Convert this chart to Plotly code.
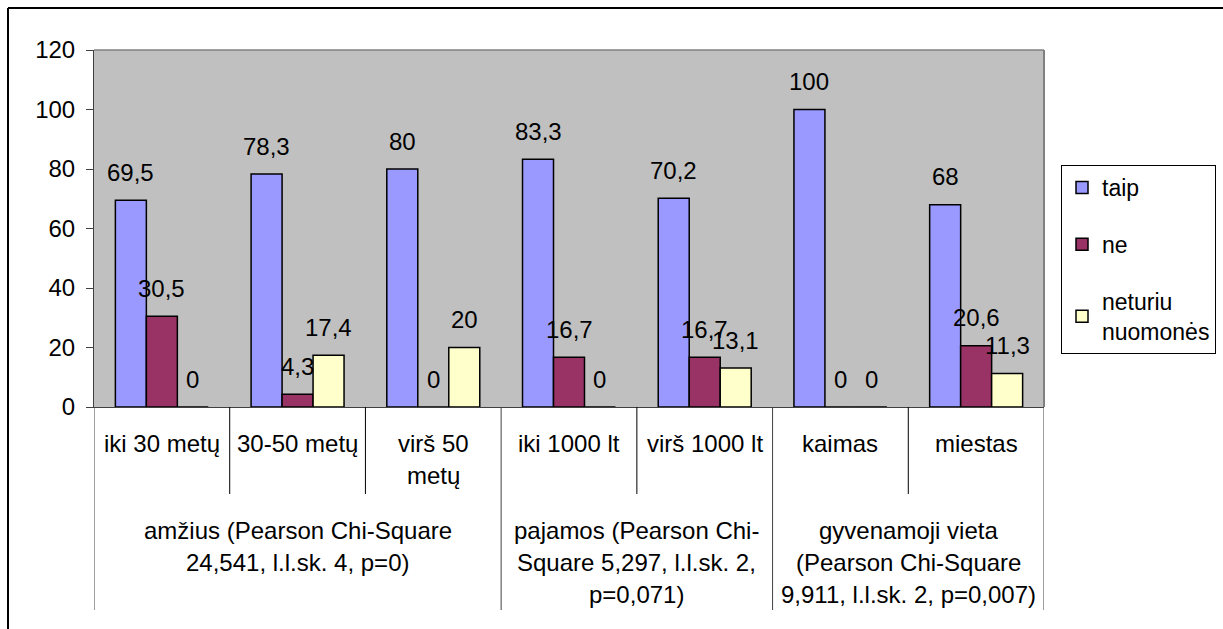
import plotly.graph_objects as go

# Survey answers (%) by respondent group
categories = ["iki 30 metų", "30-50 metų", "virš 50<br>metų", "iki 1000 lt",
              "virš 1000 lt", "kaimas", "miestas"]
taip = [69.5, 78.3, 80, 83.3, 70.2, 100, 68]
ne = [30.5, 4.3, 0, 16.7, 16.7, 0, 20.6]
neturiu = [0, 17.4, 20, 0, 13.1, 0, 11.3]

series_names = ["taip", "ne", "neturiu<br>nuomonės"]
series_colors = ["#9999FF", "#993366", "#FFFFCC"]

# Outer category level: (label lines, first group index, last group index)
group_labels = [
    (["amžius (Pearson Chi-Square", "24,541, l.l.sk. 4, p=0)"], 0, 2),
    (["pajamos (Pearson Chi-", "Square 5,297, l.l.sk. 2,", "p=0,071)"], 3, 4),
    (["gyvenamoji vieta", "(Pearson Chi-Square", "9,911, l.l.sk. 2, p=0,007)"], 5, 6),
]

FONT = "Liberation Sans, Arial, sans-serif"
FS = 24

W, H = 1223, 629
ML, MR, MT, MB = 94, 179, 50, 222
PH = H - MT - MB
PW = W - ML - MR


def py(pix):
    """Pixel row -> paper y."""
    return (H - MB - pix) / PH


def px(pix):
    """Pixel column -> paper x."""
    return (pix - ML) / PW


fig = go.Figure()
xs = list(range(len(categories)))
all_series = [taip, ne, neturiu]
for i, (name, vals, col) in enumerate(zip(series_names, all_series, series_colors)):
    fig.add_trace(go.Bar(
        x=xs, y=vals, name=name, legendgroup=f"g{i}",
        marker=dict(color=col, line=dict(color="black", width=1.5)),
        hoverinfo="y",
    ))

BARGAP = 0.315
bar_w = (1 - BARGAP) / 3
annotations = []

# value labels above each bar
for i, vals in enumerate(all_series):
    off = (i - 1) * bar_w
    for k, v in enumerate(vals):
        annotations.append(dict(
            x=k + off, y=v, xref="x", yref="y",
            text=f"{v:g}".replace(".", ","), showarrow=False,
            yanchor="middle", yshift=28,
            font=dict(family=FONT, size=FS, color="black"),
        ))

# inner category labels
for k, lab in enumerate(categories):
    for j, line in enumerate(lab.split("<br>")):
        annotations.append(dict(
            x=k, y=py(443 + 32 * j), xref="x", yref="paper",
            text=line, showarrow=False, yanchor="middle",
            font=dict(family=FONT, size=FS, color="black"),
        ))

# outer category labels
for lines, a, b in group_labels:
    for j, line in enumerate(lines):
        annotations.append(dict(
            x=(a + b) / 2, y=py(530 + 32 * j), xref="x", yref="paper",
            text=line, showarrow=False, yanchor="middle",
            font=dict(family=FONT, size=FS, color="black"),
        ))

shapes = []
# category dividers below the axis
long_edges = {-0.5}
for _, a, b in group_labels:
    long_edges.add(b + 0.5)
for k in range(len(categories) + 1):
    xe = k - 0.5
    is_long = xe in long_edges
    shapes.append(dict(
        type="line", xref="x", yref="paper", x0=xe, x1=xe,
        y0=0, y1=py(610) if is_long else py(494),
        line=dict(color="#404040" if is_long else "black", width=1),
    ))

# plot area border (top and right)
shapes.append(dict(type="line", xref="paper", yref="paper", x0=0, x1=1, y0=1, y1=1,
                   line=dict(color="#808080", width=1.5)))
shapes.append(dict(type="line", xref="paper", yref="paper", x0=1, x1=1, y0=0, y1=1,
                   line=dict(color="#808080", width=2)))

# chart frame
shapes.append(dict(type="line", xref="paper", yref="paper", x0=px(8), x1=px(1240),
                   y0=py(8), y1=py(8), line=dict(color="black", width=2)))
shapes.append(dict(type="line", xref="paper", yref="paper", x0=px(8), x1=px(8),
                   y0=py(8), y1=py(640), line=dict(color="black", width=2)))

fig.update_layout(
    width=W, height=H,
    margin=dict(l=ML, r=MR, t=MT, b=MB, autoexpand=False),
    paper_bgcolor="white",
    plot_bgcolor="#C0C0C0",
    barmode="group",
    bargap=BARGAP,
    bargroupgap=0,
    font=dict(family=FONT, size=FS, color="black"),
    xaxis=dict(
        range=[-0.5, len(categories) - 0.5],
        showticklabels=False, ticks="", showgrid=False, zeroline=False,
        showline=True, linecolor="#404040", linewidth=1,
    ),
    yaxis=dict(
        range=[0, 120], dtick=20, tick0=0,
        ticks="outside", ticklen=7, tickcolor="#404040", tickwidth=1,
        showgrid=False, zeroline=False,
        showline=True, linecolor="#404040", linewidth=1,
        tickfont=dict(family=FONT, size=FS, color="black"),
        ticklabelstandoff=6,
    ),
    legend=dict(
        x=px(1061), y=py(165), xanchor="left", yanchor="top",
        bgcolor="white", bordercolor="black", borderwidth=1,
        font=dict(family=FONT, size=23, color="black"),
        traceorder="grouped", tracegroupgap=24,
    ),
    annotations=annotations,
    shapes=shapes,
)

fig.write_html("out.html")
